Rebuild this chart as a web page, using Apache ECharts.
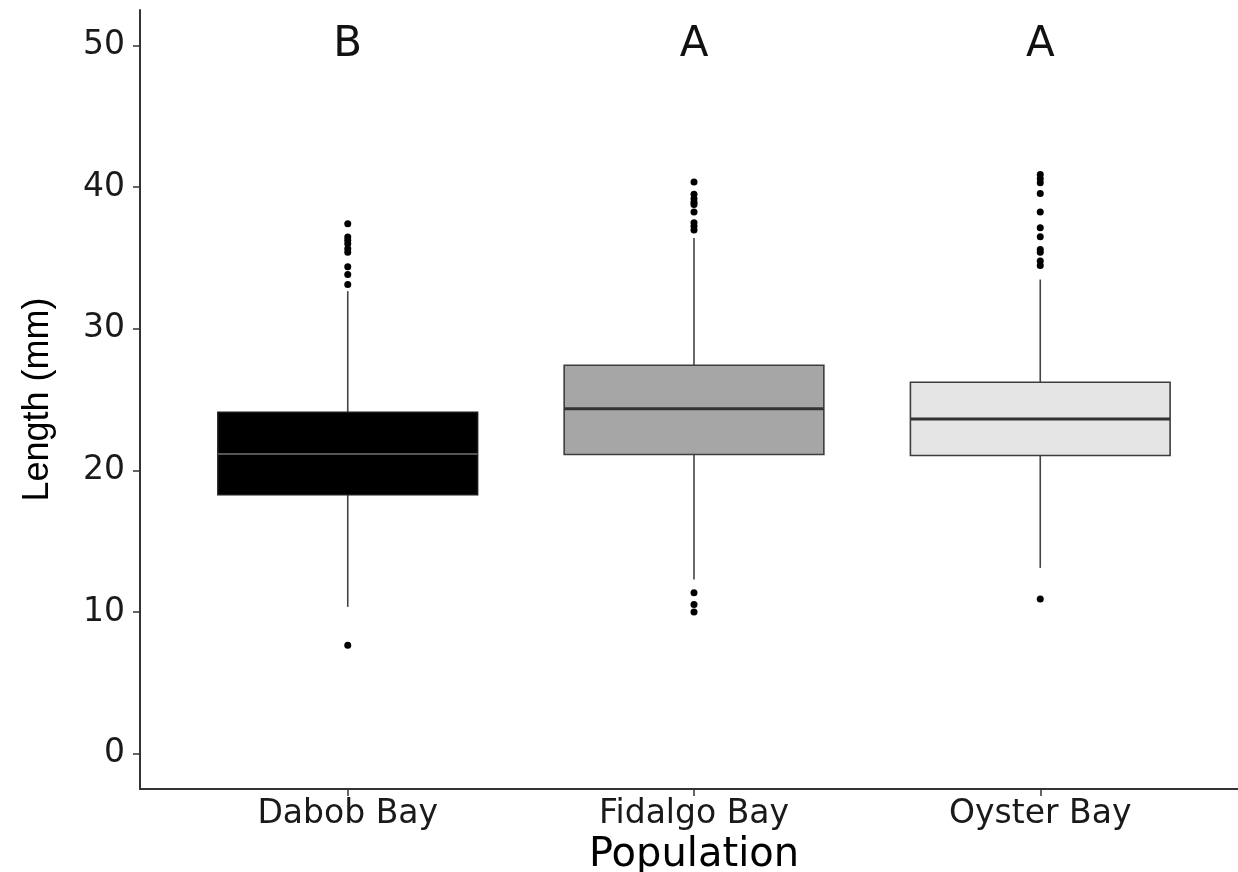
<!DOCTYPE html>
<html>
<head>
<meta charset="utf-8">
<script src="https://cdn.jsdelivr.net/npm/echarts@6/dist/echarts.min.js"></script>
<style>
html,body{margin:0;padding:0;background:#fff;}
#chart{width:1238px;height:872px;}
</style>
</head>
<body>
<div id="chart"></div>
<script>
// ---- data ----
const categories = ['Dabob Bay', 'Fidalgo Bay', 'Oyster Bay'];
// [lower whisker, Q1, median, Q3, upper whisker]
const dabobBox = [10.36, 18.27, 21.16, 24.10, 32.65];
const fidalgoBox = [12.29, 21.12, 24.34, 27.42, 36.41];
const oysterBox = [13.11, 21.05, 23.63, 26.22, 33.47];
const dabobOutliers = [7.65, 33.12, 33.83, 34.37, 35.40, 35.64, 36.0, 36.24, 36.48, 37.40];
const fidalgoOutliers = [10.0, 10.52, 11.35, 36.96, 37.24, 37.48, 38.23, 38.77, 38.93, 39.17, 39.50, 40.35];
const oysterOutliers = [10.92, 34.46, 34.77, 35.40, 35.59, 36.49, 37.13, 38.23, 39.55, 40.30, 40.58, 40.89];
const letters = ['B', 'A', 'A'];
const letterLevel = 50;
const yTicks = [0, 10, 20, 30, 40, 50];

// ---- styles ----
const fills = ['#000000', '#a6a6a6', '#e5e5e5'];
const medianColors = ['#555555', '#333333', '#333333'];
const FONT = 'DejaVu Sans';

const boxes = [dabobBox, fidalgoBox, oysterBox];
const outliers = [dabobOutliers, fidalgoOutliers, oysterOutliers];

const boxData = boxes.map((b, i) => [i + 1].concat(b));
const outlierData = [];
outliers.forEach((arr, i) => arr.forEach(v => outlierData.push([i + 1, v])));
const letterData = letters.map((l, i) => [i + 1, letterLevel]);

const chart = echarts.init(document.getElementById('chart'));

function renderBox(params, api) {
  const idx = params.dataIndex;
  const x = api.value(0);
  const lo = api.coord([x, api.value(1)]);
  const q1 = api.coord([x, api.value(2)]);
  const med = api.coord([x, api.value(3)]);
  const q3 = api.coord([x, api.value(4)]);
  const hi = api.coord([x, api.value(5)]);
  const halfW = api.size([0.75, 0])[0] / 2;
  const cx = lo[0];
  const stroke = idx === 0 ? '#1a1a1a' : '#3d3d3d';
  const whisker = '#444444';
  return {
    type: 'group',
    children: [
      {type: 'line', shape: {x1: cx, y1: hi[1], x2: cx, y2: q3[1]}, style: {stroke: whisker, lineWidth: 1.6}},
      {type: 'line', shape: {x1: cx, y1: q1[1], x2: cx, y2: lo[1]}, style: {stroke: whisker, lineWidth: 1.6}},
      {type: 'rect', shape: {x: cx - halfW, y: q3[1], width: 2 * halfW, height: q1[1] - q3[1]},
        style: {fill: fills[idx], stroke: stroke, lineWidth: 1.6}},
      {type: 'line', shape: {x1: cx - halfW, y1: med[1], x2: cx + halfW, y2: med[1]},
        style: {stroke: medianColors[idx], lineWidth: idx === 0 ? 2 : 3}}
    ]
  };
}

const option = {
  backgroundColor: '#ffffff',
  animation: false,
  grid: {left: 140, top: 10, right: -10, bottom: 83, containLabel: false, outerBoundsMode: 'none'},
  xAxis: {
    type: 'value',
    min: 0.4,
    max: 3.6,
    splitLine: {show: false},
    axisLine: {show: true, onZero: false, lineStyle: {color: '#333333', width: 2}},
    axisTick: {show: true, customValues: [1, 2, 3], length: 7, lineStyle: {color: '#333333', width: 1.5}},
    axisLabel: {
      customValues: [1, 2, 3],
      formatter: v => categories[Math.round(v) - 1],
      fontFamily: FONT, fontSize: 33, color: '#1a1a1a', margin: 9
    },
    name: 'Population',
    nameLocation: 'middle',
    nameGap: 47,
    nameTextStyle: {fontFamily: FONT, fontSize: 40, color: '#000000'}
  },
  yAxis: {
    type: 'value',
    min: -2.5,
    max: 52.5,
    splitLine: {show: false},
    axisLine: {show: true, onZero: false, lineStyle: {color: '#333333', width: 2}},
    axisTick: {show: true, customValues: yTicks, length: 7, lineStyle: {color: '#333333', width: 1.5}},
    axisLabel: {
      customValues: yTicks,
      fontFamily: FONT, fontSize: 33, color: '#1a1a1a', margin: 15
    },
    name: 'Length (mm)',
    nameLocation: 'middle',
    nameGap: 84,
    nameTextStyle: {fontFamily: 'Liberation Sans', fontSize: 36, color: '#000000'}
  },
  series: [
    {
      type: 'custom',
      renderItem: renderBox,
      data: boxData,
      encode: {x: 0, y: [1, 2, 3, 4, 5]},
      z: 2
    },
    {
      type: 'scatter',
      data: outlierData,
      symbol: 'circle',
      symbolSize: 7,
      itemStyle: {color: '#000000', opacity: 1},
      z: 3
    },
    {
      type: 'scatter',
      data: letterData,
      symbolSize: 0,
      itemStyle: {color: '#000000', opacity: 1},
      label: {
        show: true,
        position: 'inside',
        formatter: p => letters[p.dataIndex],
        fontFamily: FONT,
        fontSize: 42,
        color: '#111111',
        textBorderWidth: 0
      },
      z: 4
    }
  ]
};
chart.setOption(option);
</script>
</body>
</html>
